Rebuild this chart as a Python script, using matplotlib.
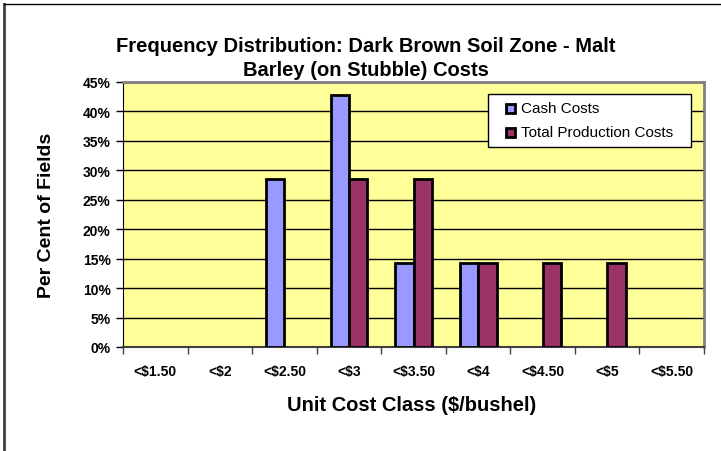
import numpy as np
import matplotlib.pyplot as plt
from matplotlib.patches import Rectangle
from matplotlib.lines import Line2D
from matplotlib.ticker import MultipleLocator, FuncFormatter

plt.rcParams["font.family"] = ["Liberation Sans", "DejaVu Sans"]

classes = ["<$1.50", "<$2", "<$2.50", "<$3", "<$3.50", "<$4", "<$4.50", "<$5", "<$5.50"]
cash_costs = [0, 0, 28.57, 42.86, 14.29, 14.29, 0, 0, 0]
total_costs = [0, 0, 0, 28.57, 28.57, 14.29, 14.29, 14.29, 0]
series_names = ["Cash Costs", "Total Production Costs"]
series_colors = ["#9999FF", "#993366"]

W, H = 721, 452
fig = plt.figure(figsize=(W / 100, H / 100), dpi=100)
ax = fig.add_axes([123 / W, 1 - 348 / H, (704 - 123) / W, (348 - 83) / H])
ax.set_facecolor("#FFFF99")

# excel style grouping: two bars plus a 150% gap per category
x = np.arange(len(classes))
bw = 1 / 3.5
for vals, col, off in [(cash_costs, series_colors[0], -bw / 2),
                       (total_costs, series_colors[1], bw / 2)]:
    v = np.array(vals)
    m = v > 0
    ax.bar(x[m] + off, v[m], width=bw, color=col, edgecolor="black", linewidth=2, zorder=3)

ax.set_xlim(-0.5, len(classes) - 0.5)
ax.set_ylim(0, 45)
ax.yaxis.set_major_locator(MultipleLocator(5))
ax.yaxis.set_major_formatter(FuncFormatter(lambda v, p: f"{v:.0f}%"))
ax.grid(axis="y", color="black", linewidth=1, zorder=1)

ax.set_xticks(x)
ax.set_xticklabels(classes, fontsize=10, fontweight="bold")
ax.set_xticks(np.arange(len(classes) + 1) - 0.5, minor=True)
ax.tick_params(axis="x", which="major", length=0, pad=12)
ax.tick_params(axis="x", which="minor", length=5, width=1, color="#404040")
ax.tick_params(axis="y", labelsize=10, length=5, width=1, pad=4)
for lab in ax.get_yticklabels():
    lab.set_fontweight("bold")

for side in ["top", "right"]:
    ax.spines[side].set_color("#808080")
    ax.spines[side].set_linewidth(2)
ax.spines["left"].set_color("black")
ax.spines["bottom"].set_color("#404040")
ax.spines["bottom"].set_linewidth(1.5)

fig.text(47 / W, 1 - 215 / H, "Per Cent of Fields", rotation=90,
         ha="center", va="center", fontsize=14, fontweight="bold")
fig.text(412 / W, 1 - 406 / H, "Unit Cost Class ($/bushel)",
         ha="center", va="center", fontsize=14.5, fontweight="bold")

fig.text(366 / W, 1 - 46 / H, "Frequency Distribution: Dark Brown Soil Zone - Malt",
         ha="center", va="center", fontsize=14.5, fontweight="bold")
fig.text(366 / W, 1 - 71 / H, "Barley (on Stubble) Costs",
         ha="center", va="center", fontsize=14.5, fontweight="bold")

# legend box, laid out in pixels
def px(xp, yp):
    return xp / W, 1 - yp / H

fig.add_artist(Rectangle(px(488, 148), 203 / W, 53 / H, transform=fig.transFigure,
                         facecolor="white", edgecolor="black", linewidth=1, zorder=5))
for i, (name, col) in enumerate(zip(series_names, series_colors)):
    yc = 109 + 24 * i
    fig.add_artist(Rectangle(px(506, yc + 4.5), 9 / W, 9 / H, transform=fig.transFigure,
                             facecolor=col, edgecolor="black", linewidth=2, zorder=6))
    fig.text(*px(521, yc), name, ha="left", va="center", fontsize=11, zorder=6)

# outer chart frame (top and left edges)
fig.add_artist(Line2D([4 / W, 4 / W], [0, 1 - 5 / H], transform=fig.transFigure,
                      color="#404040", linewidth=2))
fig.add_artist(Line2D([4 / W, 1], [1 - 5 / H, 1 - 5 / H], transform=fig.transFigure,
                      color="black", linewidth=1))

fig.savefig("out.png", dpi=100)
